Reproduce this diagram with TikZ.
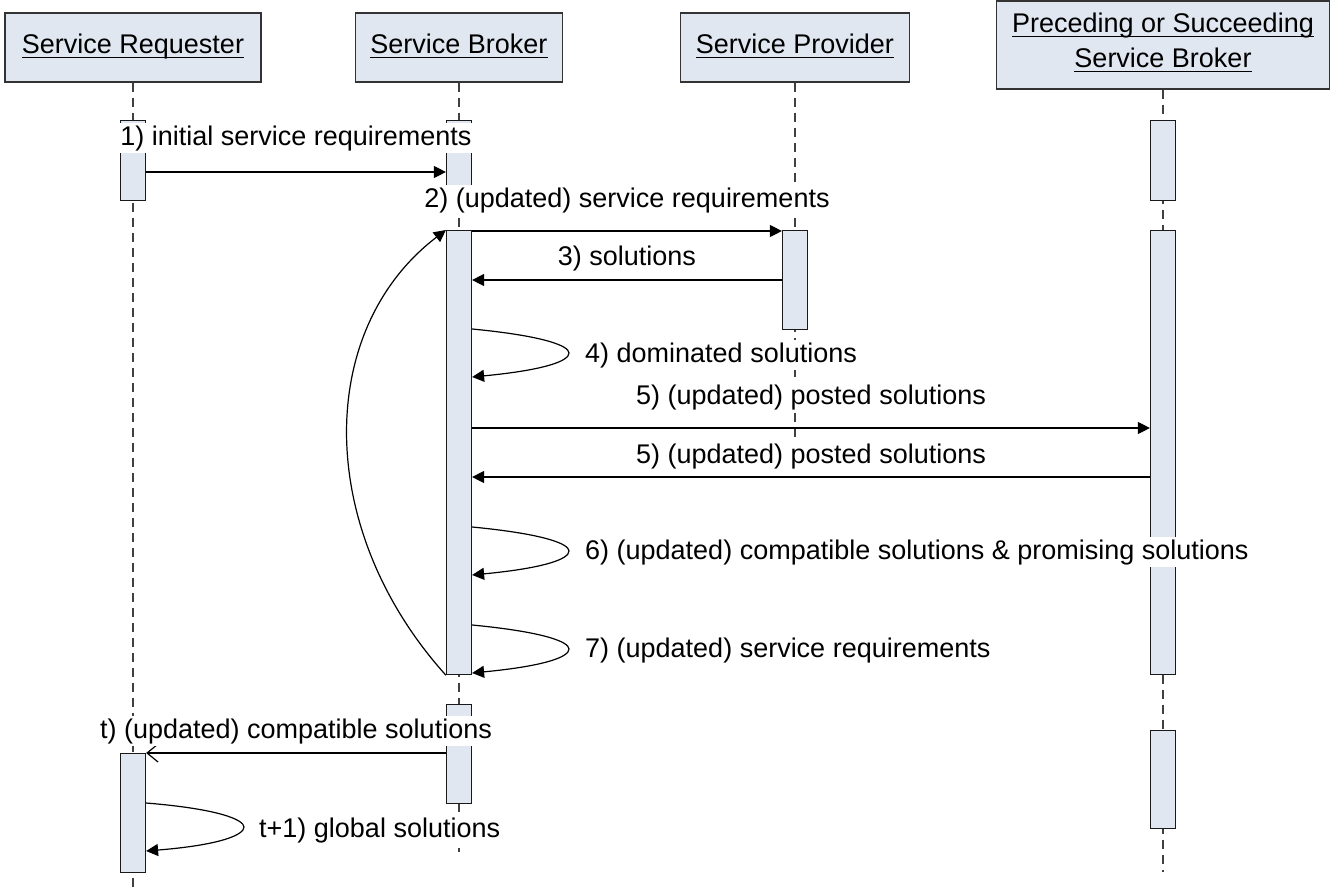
\documentclass[tikz,border=0pt]{standalone}
\usepackage{fontspec}
\setmainfont{Liberation Sans}
\usetikzlibrary{arrows.meta}
\definecolor{boxfill}{RGB}{224,231,241}
\definecolor{lifegray}{RGB}{64,64,64}
% underline at a fixed depth below the baseline
\newcommand\hdrul[1]{\setbox0=\hbox{#1}\rlap{\rule[-5pt]{\wd0}{1.3pt}}\box0}
\begin{document}
\begin{tikzpicture}[x=1pt,y=-1pt,
  font=\fontsize{27pt}{32pt}\selectfont,
  header/.style={draw=black!80, fill=boxfill, line width=1.2pt, inner sep=0pt},
  hdrtext/.style={inner sep=0pt, anchor=base},
  act/.style={draw=black!90, fill=boxfill, line width=1.2pt, minimum width=25pt, inner sep=0pt, anchor=north},
  life/.style={draw=lifegray, line width=1.2pt, dash pattern=on 9pt off 6pt},
  msg/.style={line width=1.2pt, -{Triangle[length=12pt,width=12pt]}},
  reply/.style={line width=1.2pt, -{Straight Barb[length=11pt,width=18pt]}},
  lbl/.style={fill=white, inner xsep=1pt, inner ysep=0pt, text height=22.5pt, text depth=8pt, anchor=base},
  lbll/.style={lbl, anchor=base west}]
\useasboundingbox (0,0) rectangle (1334,892);

% participants
\node[header, minimum width=256pt, minimum height=69pt] (req) at (133,47.5) {};
\node[hdrtext] (reqt) at (req.center |- 0,53) {\hdrul{Service Requester}};
\node[header, minimum width=207pt, minimum height=69pt] (bro) at (459,47.5) {};
\node[hdrtext] (brot) at (bro.center |- 0,53) {\hdrul{Service Broker}};
\node[header, minimum width=229pt, minimum height=69pt] (pro) at (795,47.5) {};
\node[hdrtext] (prot) at (pro.center |- 0,53) {\hdrul{Service Provider}};
\node[header, minimum width=333pt, minimum height=88pt] (psb) at (1163,45) {};
\node[hdrtext] (psbt1) at (psb.center |- 0,32) {\hdrul{Preceding or Succeeding}};
\node[hdrtext] (psbt2) at (psb.center |- 0,67) {\hdrul{Service Broker}};

% lifelines
\coordinate (reqend) at (133,892);
\coordinate (broend) at (459,852);
\coordinate (proend) at (795,448);
\coordinate (psbend) at (1163,872);
\draw[life] (req.south) -- (reqend);
\draw[life] (bro.south) -- (broend);
\draw[life] (pro.south) -- (proend);
\draw[life] (psb.south) -- (psbend);

% activation bars
\node[act, minimum height=80pt]  (ra1) at (133,120) {};
\node[act, minimum height=119pt] (ra2) at (133,753) {};
\node[act, minimum height=80pt]  (ba1) at (459,120) {};
\node[act, minimum height=444pt] (ba2) at (459,230) {};
\node[act, minimum height=99pt]  (ba3) at (459,704) {};
\node[act, minimum height=99pt]  (pa1) at (795,230) {};
\node[act, minimum height=80pt]  (sa1) at (1163,120) {};
\node[act, minimum height=444pt] (sa2) at (1163,230) {};
\node[act, minimum height=98pt]  (sa3) at (1163,730) {};

% messages
\draw[msg] (ra1.east |- 0,172) -- (ba1.west |- 0,172);
\draw[msg] (ba2.east |- 0,231) -- (pa1.west |- 0,231);
\draw[msg] (pa1.west |- 0,280) -- (ba2.east |- 0,280);
\draw[msg] (ba2.east |- 0,329) .. controls (545,336) and (569,346) .. (569,353)
           .. controls (569,361) and (545,370) .. (ba2.east |- 0,377);
\draw[msg] (ba2.east |- 0,428) -- (sa2.west |- 0,428);
\draw[msg] (sa2.west |- 0,477) -- (ba2.east |- 0,477);
\draw[msg] (ba2.east |- 0,527) .. controls (545,534) and (569,544) .. (569,551)
           .. controls (569,559) and (545,568) .. (ba2.east |- 0,575);
\draw[msg] (ba2.east |- 0,625) .. controls (545,632) and (569,642) .. (569,649)
           .. controls (569,657) and (545,666) .. (ba2.east |- 0,673);
\draw[msg] (ba2.south west) .. controls (315,530) and (315,330) .. (ba2.north west);
\draw[reply] (ba3.west |- 0,753) -- (ra2.north east);
\draw[msg] (ra2.east |- 0,803) .. controls (220,809) and (244,820) .. (244,827)
           .. controls (244,835) and (220,845) .. (ra2.east |- 0,851);

% message labels
\node[lbl]  (l1) at (296,145) {1) initial service requirements};
\node[lbl]  (l2) at (627,207) {2) (updated) service requirements};
\node[lbl]  (l3) at (627,265) {3) solutions};
\node[lbll] (l4) at (584,362) {4) dominated solutions};
\node[lbl]  (l5a) at (811,404) {5) (updated) posted solutions};
\node[lbl]  (l5b) at (811,463) {5) (updated) posted solutions};
\node[lbll] (l6) at (584,559) {6) (updated) compatible solutions \& promising solutions};
\node[lbll] (l7) at (584,657) {7) (updated) service requirements};
\node[lbl]  (lt) at (296,738) {t) (updated) compatible solutions};
\node[lbll] (lt1) at (258,837) {t+1) global solutions};
\end{tikzpicture}
\end{document}
